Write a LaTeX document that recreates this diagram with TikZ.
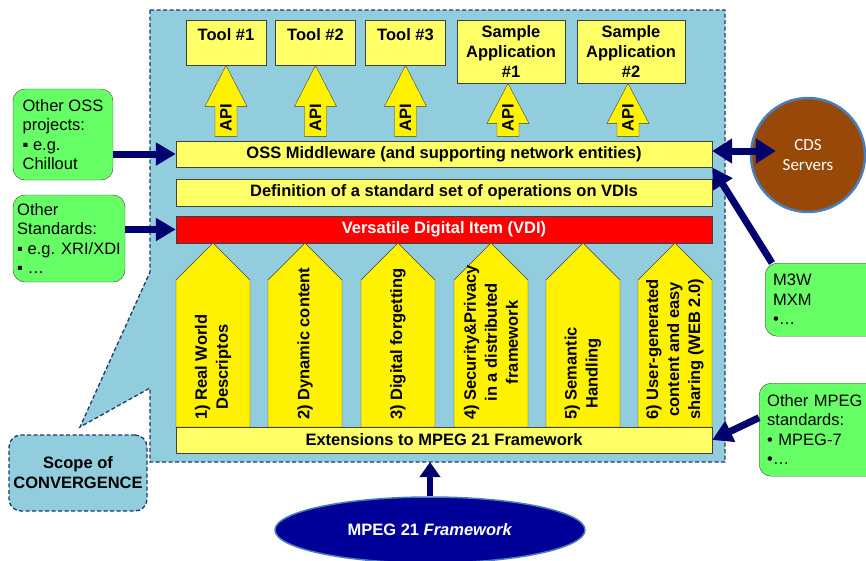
\documentclass[tikz,border=0pt]{standalone}
\usepackage{fontspec}
\setmainfont{Liberation Sans}
\newfontfamily\cdsfont{Carlito}
\usetikzlibrary{arrows.meta,shapes.geometric}
\definecolor{scopeblue}{RGB}{146,205,221}
\definecolor{scopeline}{RGB}{31,56,110}
\definecolor{paleyellow}{RGB}{255,255,102}
\definecolor{notegreen}{RGB}{102,255,102}
\definecolor{linkblue}{RGB}{0,0,110}
\definecolor{cdsbrown}{RGB}{152,72,7}
\definecolor{cdsrim}{RGB}{74,126,187}
\definecolor{mpegblue}{RGB}{0,0,153}
\definecolor{rim}{RGB}{64,64,64}

\begin{document}
\begin{tikzpicture}[x=1pt,y=-1pt,
  font=\fontsize{16.5}{19.5}\selectfont,
  dashedge/.style={draw=scopeline,line width=1.3pt,dash pattern=on 4pt off 2.5pt},
  box/.style={draw=rim,fill=paleyellow,inner sep=0pt,align=center,font=\fontsize{16.5}{20}\selectfont\bfseries},
  tool/.style={box,anchor=north,minimum width=80,text height=20,text depth=25},
  sample/.style={box,anchor=north,minimum width=108,minimum height=63},
  bar/.style={box,minimum width=536,minimum height=26.5},
  api/.style={draw=rim,fill=yellow},
  apitext/.style={rotate=90,inner sep=0pt,font=\fontsize{16.5}{20}\selectfont\bfseries},
  pillar/.style={draw=rim,fill=yellow},
  pillartext/.style={rotate=90,anchor=west,align=center,inner sep=0pt,font=\fontsize{16.5}{21}\selectfont\bfseries},
  note/.style={draw=rim,fill=notegreen,rounded corners=12,align=left,inner sep=0pt},
  link/.style={draw=linkblue,line width=7pt,-{Triangle[length=20pt,width=22pt]}}]
	\useasboundingbox (0,0) rectangle (866,560);
	\draw[dashedge,fill=scopeblue] (150,10) -- (725,10) -- (725,462) -- (150,462) -- (150,388) -- (80,427) -- (150,272) -- cycle;
	\coordinate (scopebottom) at (430,462);
	\node[dashedge,fill=scopeblue,rounded corners=12,minimum width=138,minimum height=76,align=center,font=\fontsize{16.5}{20}\selectfont\bfseries] (conv) at (78,473) {Scope of\\CONVERGENCE};

	\node[tool] (t1) at (226,20) {Tool \#1};
	\node[tool] (t2) at (315.5,20) {Tool \#2};
	\node[tool] (t3) at (405.5,20) {Tool \#3};
	\node[sample] (sa1) at (511,20) {Sample\\Application\\\#1};
	\node[sample] (sa2) at (631,20) {Sample\\Application\\\#2};

	\draw[api] (t1.south) -- ++(21,41) -- ++(-10,0) -- ++(0,30) -- ++(-22,0) -- ++(0,-30) -- ++(-10,0) -- cycle;
	\draw[api] (t2.south) -- ++(21,41) -- ++(-10,0) -- ++(0,30) -- ++(-22,0) -- ++(0,-30) -- ++(-10,0) -- cycle;
	\draw[api] (t3.south) -- ++(21,41) -- ++(-10,0) -- ++(0,30) -- ++(-22,0) -- ++(0,-30) -- ++(-10,0) -- cycle;
	\draw[api] ([xshift=-3pt]sa1.south) -- ++(21,40) -- ++(-10,0) -- ++(0,13) -- ++(-22,0) -- ++(0,-13) -- ++(-10,0) -- cycle;
	\draw[api] ([xshift=-3pt]sa2.south) -- ++(21,40) -- ++(-10,0) -- ++(0,13) -- ++(-22,0) -- ++(0,-13) -- ++(-10,0) -- cycle;
	\node[apitext] (api1) at (226,118) {API};
	\node[apitext] (api2) at (315.5,118) {API};
	\node[apitext] (api3) at (405.5,118) {API};
	\node[apitext] (api4) at (508,118) {API};
	\node[apitext] (api5) at (628,118) {API};

	\node[bar] (mw) at (444,154) {OSS Middleware (and supporting network entities)};
	\node[bar] (def) at (444,192.5) {Definition of a standard set of operations on VDIs};
	\node[bar,fill=red,text=white] (vdi) at (444,229.5) {Versatile Digital Item (VDI)};

	\draw[pillar] (176,427) -- (176,280) -- (213,243) -- (250,280) -- (250,427) -- cycle;
	\draw[pillar] (268,427) -- (268,280) -- (305,243) -- (342,280) -- (342,427) -- cycle;
	\draw[pillar] (361,427) -- (361,280) -- (398,243) -- (435,280) -- (435,427) -- cycle;
	\draw[pillar] (454,427) -- (454,280) -- (491,243) -- (528,280) -- (528,427) -- cycle;
	\draw[pillar] (546,427) -- (546,280) -- (583,243) -- (620,280) -- (620,427) -- cycle;
	\draw[pillar] (638,427) -- (638,280) -- (675,243) -- (712,280) -- (712,427) -- cycle;
	\node[pillartext] (p1) at (213,420) {1) Real World\\Descriptos};
	\node[pillartext] (p2) at (305,420) {2) Dynamic content};
	\node[pillartext] (p3) at (398,420) {3) Digital forgetting};
	\node[pillartext] (p4) at (491,420) {4) Security\&Privacy\\in a distributed\\framework};
	\node[pillartext] (p5) at (583,420) {5) Semantic\\Handling};
	\node[pillartext] (p6) at (675,420) {6) User-generated\\content and easy\\sharing (WEB 2.0)};
	\node[bar] (ext) at (444,440) {Extensions to MPEG 21 Framework};

	\node[note,minimum width=100,minimum height=91] (oss) at (63,134.5) {Other OSS\\projects:\\▪ e.g.\\Chillout};
	\node[note,minimum width=112,minimum height=87] (std) at (69,238.5) {Other\\Standards:\\▪ e.g. XRI/XDI\\▪ …};
	\node[note,anchor=north west,text width=100,inner xsep=8,minimum height=73] (m3w) at (765,263) {M3W\\MXM\\•…};
	\node[note,anchor=north west,text width=105,inner xsep=8,minimum height=93] (mpeg) at (759,383) {Other MPEG\\standards:\\• MPEG-7\\•…};
	\node[circle,fill=cdsbrown,draw=cdsrim,line width=2.5pt,minimum size=114,inner sep=0pt,align=center,text=white,font=\cdsfont\fontsize{17}{20}\selectfont] (cds) at (808,155) {CDS\\Servers};
	\node[ellipse,fill=mpegblue,draw=cdsrim,line width=1.5pt,minimum width=310,minimum height=66,inner sep=0pt,text=white,font=\fontsize{16.5}{20}\selectfont\bfseries] (mpeg21) at (430,530) {MPEG 21 \textit{Framework}};

	\draw[link] (oss.east |- mw.west) -- (mw.west);
	\draw[link] (std.east |- vdi.west) -- (vdi.west);
	\draw[link,{Triangle[length=20pt,width=24pt]}-{Triangle[length=20pt,width=24pt]}] ([yshift=3pt]mw.east) -- ([xshift=26pt,yshift=4pt]cds.west);
	\draw[link] ([xshift=7pt]m3w.north west) -- (mw.south east);
	\draw[link] ([yshift=12pt]mpeg.west) -- (ext.east);
	\draw[link,line width=6pt,-{Triangle[length=15pt,width=20pt]}] (mpeg21.north) -- (scopebottom);
\end{tikzpicture}
\end{document}
